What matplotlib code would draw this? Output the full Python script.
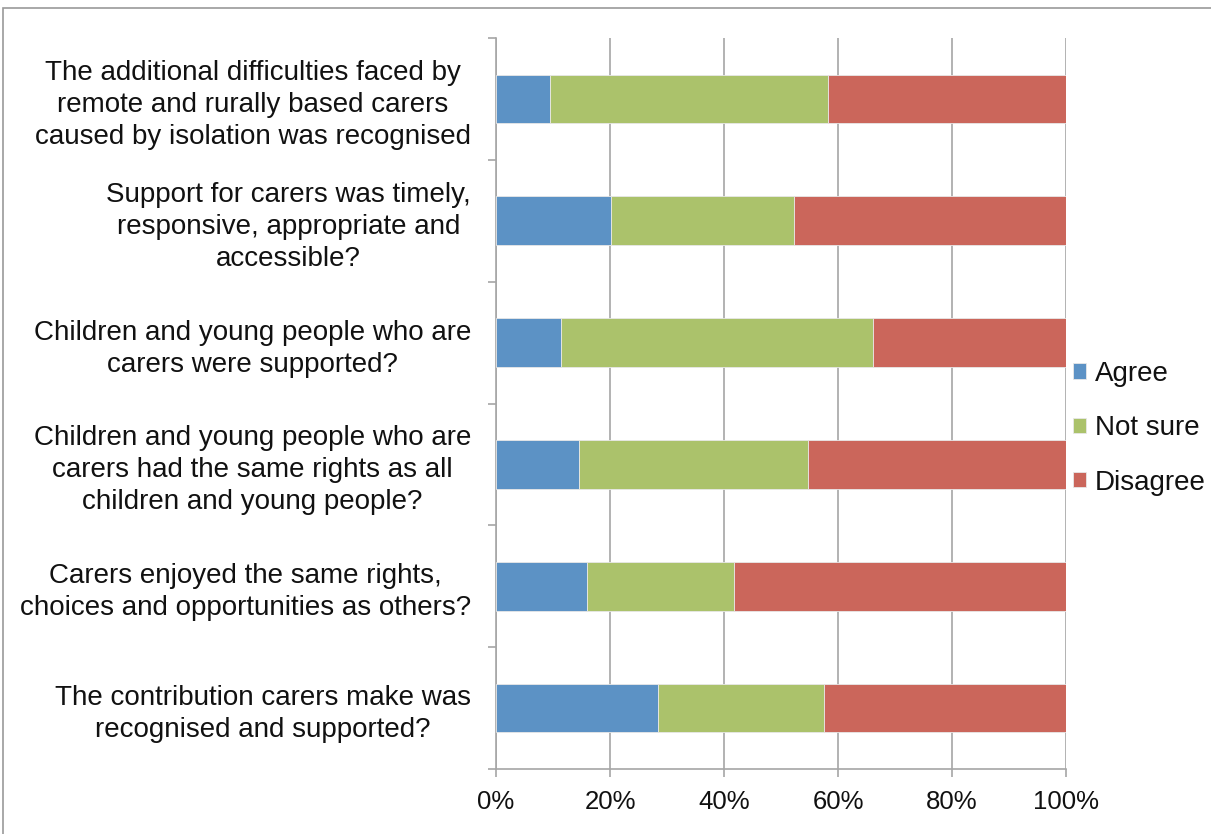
import numpy as np
import matplotlib.pyplot as plt
from matplotlib.ticker import FuncFormatter, FixedLocator
from matplotlib.patches import Rectangle

plt.rcParams['font.family'] = ['Liberation Sans', 'DejaVu Sans']

questions = [
    "The additional difficulties faced by\nremote and rurally based carers\ncaused by isolation was recognised",
    "Support for carers was timely,\nresponsive, appropriate and\naccessible?",
    "Children and young people who are\ncarers were supported?",
    "Children and young people who are\ncarers had the same rights as all\nchildren and young people?",
    "Carers enjoyed the same rights,\nchoices and opportunities as others?",
    "The contribution carers make was\nrecognised and supported?",
]
agree = [9.4, 20.1, 11.4, 14.6, 15.9, 28.5]
not_sure = [48.9, 32.1, 54.8, 40.1, 25.9, 29.0]
disagree = [41.7, 47.8, 33.8, 45.3, 58.2, 42.5]

series = [("Agree", agree, "#5C92C5"),
          ("Not sure", not_sure, "#ABC26B"),
          ("Disagree", disagree, "#CB665B")]

fig = plt.figure(figsize=(12.11, 8.34), dpi=100)
ax = fig.add_axes([496 / 1211, 1 - 769 / 834, 570 / 1211, 731 / 834])

# light frame around the whole picture
fig.patches.append(Rectangle((3 / 1211, -0.1), 1.2, 1 - 8 / 834 + 0.1,
                             transform=fig.transFigure, fill=False,
                             edgecolor="#9a9a9a", linewidth=1.2))

y = np.arange(len(questions))
left = np.zeros(len(questions))
for name, vals, col in series:
    vals = np.array(vals)
    ax.barh(y, vals, left=left, height=0.4, color=col, label=name,
            edgecolor="#e8e8e8", linewidth=0.6, zorder=3)
    left += vals

ax.set_xlim(0, 100)
ax.set_ylim(len(questions) - 0.5, -0.5)
ax.xaxis.set_major_locator(FixedLocator([0, 20, 40, 60, 80, 100]))
ax.xaxis.set_major_formatter(FuncFormatter(lambda v, p: f"{v:.0f}%"))
ax.grid(axis="x", color="#a6a6a6", linewidth=1.2, zorder=0)

ax.set_yticks(y)
ax.set_yticklabels(questions)
for lab in ax.get_yticklabels():
    lab.set_multialignment("center")
    lab.set_linespacing(1.3)
ax.set_yticks(np.arange(len(questions) + 1) - 0.5, minor=True)
ax.tick_params(axis="y", which="major", length=0, pad=18, labelsize=20,
               labelcolor="#111111")
ax.tick_params(axis="y", which="minor", length=6, color="#a6a6a6", width=1.2)
ax.tick_params(axis="x", length=6, color="#a6a6a6", width=1.2, labelsize=18.5,
               labelcolor="#111111", pad=9)

for s in ["top", "right"]:
    ax.spines[s].set_visible(False)
for s in ["left", "bottom"]:
    ax.spines[s].set_color("#a6a6a6")
    ax.spines[s].set_linewidth(1.2)

leg = ax.legend(loc="center left", bbox_to_anchor=(1.012, 0.466), frameon=False,
                fontsize=20, handlelength=0.47, handleheight=0.47,
                handletextpad=0.32, labelspacing=1.02, borderaxespad=0,
                borderpad=0)
for t in leg.get_texts():
    t.set_color("#111111")

fig.savefig("out.png", dpi=100)
